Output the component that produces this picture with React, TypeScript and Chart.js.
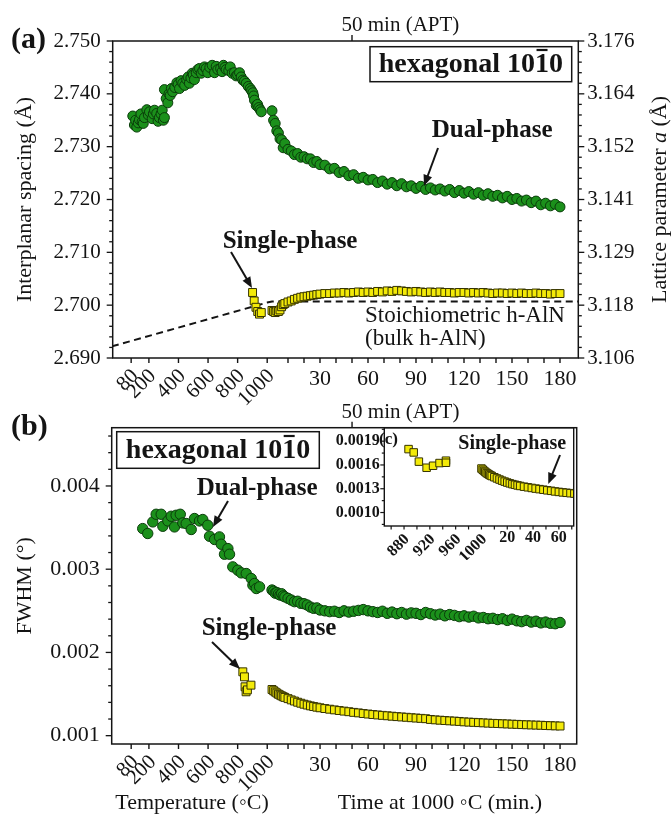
import React, { useEffect, useRef } from 'react';
import { Chart, registerables } from 'chart.js';

Chart.register(...registerables);

// ---------------- data ----------------
// temperature ramp stage (°C) and isothermal stage at 1000 °C (min)
const tempTickLabels = [80, 200, 400, 600, 800, 1000];
const timeTickLabels = [30, 60, 90, 120, 150, 180];
const aptMinute = 50;

const aLeftTicks = [2.69, 2.7, 2.71, 2.72, 2.73, 2.74, 2.75];
const aRightLabels = ['3.106', '3.118', '3.129', '3.141', '3.152', '3.164', '3.176'];
const bTicks = [0.001, 0.002, 0.003, 0.004];
const cTicks = [0.001, 0.0013, 0.0016, 0.0019];
const cTempLabels = [880, 920, 960, 1000];
const cTimeLabels = [20, 40, 60];

const timeMin = [0, 1, 2, 3, 4, 5, 6, 7, 8, 10, 12, 14, 16, 18, 20, 22, 24, 26, 28, 30, 33, 36, 39, 42, 45, 48, 51, 54, 57, 60, 63, 66, 69, 72, 75, 78, 81, 84, 87, 90, 93, 96, 99, 102, 105, 108, 111, 114, 117, 120, 123, 126, 129, 132, 135, 138, 141, 144, 147, 150, 153, 156, 159, 162, 165, 168, 171, 174, 177, 180];

// (a) interplanar spacing, dual-phase, heating ramp
const aDualTempT = [91, 102, 110, 118, 128, 136, 146, 154, 162, 170, 186, 196, 204, 222, 230, 238, 253, 262, 271, 282, 290, 298, 305, 305, 317, 328, 336, 344, 352, 361, 375, 389, 398, 407, 418, 429, 442, 456, 465, 474, 484, 493, 500, 508, 520, 531, 542, 554, 565, 576, 587, 598, 612, 628, 644, 655, 666, 685, 695, 704, 714, 723, 740, 750, 763, 778, 790, 800, 813, 824, 835, 846, 858, 872, 885, 894, 903, 908, 914, 926, 935, 943, 952, 960];
const aDualTempD = [2.7358, 2.7341, 2.735, 2.7337, 2.7345, 2.7351, 2.7362, 2.7347, 2.7344, 2.7355, 2.737, 2.736, 2.7366, 2.7353, 2.7362, 2.7369, 2.7363, 2.7348, 2.7355, 2.7362, 2.7369, 2.735, 2.7355, 2.7408, 2.7391, 2.7383, 2.74, 2.7397, 2.741, 2.7404, 2.7412, 2.7421, 2.7418, 2.741, 2.7425, 2.742, 2.7416, 2.7427, 2.7432, 2.742, 2.743, 2.7439, 2.7436, 2.7427, 2.744, 2.7446, 2.7448, 2.7439, 2.7444, 2.7451, 2.7448, 2.744, 2.745, 2.7454, 2.744, 2.7452, 2.7446, 2.7448, 2.7442, 2.7454, 2.745, 2.7446, 2.7444, 2.7451, 2.7439, 2.744, 2.7434, 2.7436, 2.744, 2.7432, 2.7426, 2.7424, 2.742, 2.7414, 2.741, 2.7406, 2.7402, 2.7396, 2.7388, 2.7378, 2.738, 2.7374, 2.737, 2.7366];
const aDualTimeD = [2.7368, 2.735, 2.7344, 2.733, 2.7326, 2.7315, 2.7313, 2.7298, 2.7306, 2.7295, 2.7292, 2.7285, 2.7287, 2.728, 2.7281, 2.7277, 2.7277, 2.727, 2.7272, 2.7266, 2.7265, 2.7258, 2.7259, 2.7251, 2.7253, 2.7245, 2.7247, 2.724, 2.7242, 2.7237, 2.7238, 2.7232, 2.7235, 2.7229, 2.7232, 2.7226, 2.723, 2.7224, 2.7226, 2.7221, 2.7225, 2.7219, 2.7222, 2.7218, 2.722, 2.7216, 2.7219, 2.7213, 2.7217, 2.7212, 2.7215, 2.721, 2.7213, 2.7208, 2.7211, 2.7206, 2.7208, 2.7203, 2.7206, 2.72, 2.7202, 2.7197, 2.7199, 2.7194, 2.7197, 2.719, 2.7193, 2.7188, 2.7191, 2.7186];
// (a) single-phase
const aSingleTempT = [901, 912, 924, 936, 948, 960];
const aSingleTempD = [2.7024, 2.7008, 2.6996, 2.6988, 2.6983, 2.6986];
const aSingleTimeD = [2.699, 2.6988, 2.6986, 2.6989, 2.6988, 2.6991, 2.6997, 2.7001, 2.7003, 2.7006, 2.7008, 2.7011, 2.7013, 2.7015, 2.7016, 2.7017, 2.7018, 2.7019, 2.702, 2.7021, 2.7022, 2.7022, 2.7023, 2.7023, 2.7024, 2.7023, 2.7024, 2.7025, 2.7024, 2.7025, 2.7024, 2.7026, 2.7025, 2.7027, 2.7026, 2.7028, 2.7027, 2.7026, 2.7025, 2.7026, 2.7025, 2.7024, 2.7025, 2.7024, 2.7025, 2.7024, 2.7024, 2.7023, 2.7024, 2.7024, 2.7023, 2.7024, 2.7023, 2.7024, 2.7023, 2.7022, 2.7023, 2.7023, 2.7022, 2.7023, 2.7022, 2.7023, 2.7022, 2.7022, 2.7023, 2.7022, 2.7022, 2.7021, 2.7022, 2.7022];
// (a) stoichiometric bulk h-AlN reference
const stoichTempT = [-50, 1000];
const stoichTempD = [2.6922, 2.7005];
const stoichTimeT = [0, 192];
const stoichTimeD = [2.7007, 2.7007];

// (b) FWHM, dual-phase
const bDualTempT = [158, 192, 226, 249, 283, 294, 328, 351, 373, 384, 412, 429, 452, 486, 508, 542, 564, 598, 610, 644, 677, 689, 711, 734, 745, 767, 801, 824, 858, 892, 903, 914, 926, 948];
const bDualTempV = [0.003488, 0.003429, 0.003568, 0.00366, 0.00366, 0.003516, 0.00358, 0.003636, 0.003508, 0.003648, 0.00366, 0.003556, 0.003549, 0.003477, 0.003609, 0.00358, 0.003597, 0.003528, 0.003396, 0.003357, 0.003388, 0.0033, 0.00318, 0.003248, 0.00318, 0.003028, 0.002988, 0.002956, 0.002948, 0.002888, 0.002808, 0.002828, 0.002768, 0.002788];
const bDualTimeV = [0.00275, 0.002735, 0.002712, 0.00272, 0.002702, 0.00269, 0.002705, 0.00268, 0.002668, 0.00265, 0.00263, 0.00261, 0.002615, 0.00259, 0.002585, 0.00257, 0.002545, 0.00253, 0.002535, 0.00251, 0.0025, 0.00249, 0.002495, 0.00248, 0.0025, 0.002485, 0.002495, 0.002505, 0.002515, 0.0025, 0.00249, 0.00248, 0.002495, 0.00247, 0.002485, 0.002465, 0.00248, 0.00246, 0.002475, 0.00247, 0.002455, 0.00248, 0.002465, 0.00245, 0.00246, 0.00244, 0.002455, 0.002445, 0.00243, 0.00244, 0.002425, 0.002435, 0.002415, 0.00242, 0.002405, 0.00241, 0.002395, 0.002405, 0.002385, 0.0024, 0.00238, 0.00237, 0.002385, 0.002365, 0.002375, 0.002355, 0.002365, 0.00235, 0.002345, 0.00236];
// (b) FWHM, single-phase
const bSingleTempT = [835, 846, 850, 857, 866, 890];
const bSingleTempV = [0.001767, 0.001707, 0.001587, 0.001527, 0.00155, 0.001607];
const bSingleTimeV = [0.001555, 0.00154, 0.001525, 0.001512, 0.001498, 0.001488, 0.001478, 0.001468, 0.00146, 0.001445, 0.00143, 0.001416, 0.001402, 0.00139, 0.001378, 0.001368, 0.001358, 0.00135, 0.001342, 0.001335, 0.001326, 0.001318, 0.00131, 0.001302, 0.001295, 0.001288, 0.00128, 0.001274, 0.001266, 0.00126, 0.001254, 0.001249, 0.001244, 0.001239, 0.001234, 0.001229, 0.001225, 0.001221, 0.001216, 0.001212, 0.001208, 0.001204, 0.001195, 0.00119, 0.001186, 0.001182, 0.001178, 0.001175, 0.001171, 0.001166, 0.001163, 0.00116, 0.001157, 0.001154, 0.001151, 0.001148, 0.001146, 0.001143, 0.001141, 0.001138, 0.001136, 0.001133, 0.001131, 0.001129, 0.001127, 0.001125, 0.001122, 0.00112, 0.001118, 0.001116];
// (c) inset, single-phase heating part
const cSingleTempT = [887, 895, 903, 915, 925, 935, 945, 945];
const cSingleTempV = [0.0018, 0.001758, 0.001642, 0.001565, 0.00159, 0.001624, 0.001654, 0.001628];

// ---------------- axis mapping (broken temperature / time axis) ----------------
const RAMP = 10.82; // °C per axis-minute in the heating section
const T_END = -3; // axis position of the 1000 °C tick
const tempToU = (T: number) => T_END - (1000 - T) / RAMP;
const insetTempToU = (T: number) => (T - 1000) / 2;
const same = (t: number) => t;
const toPts = (xs: number[], ys: number[], f: (v: number) => number) => xs.map((x, i) => ({ x: f(x), y: ys[i] }));

// ---------------- styles ----------------
const SERIF = '"Liberation Serif", "Times New Roman", Times, serif';
const F = (size: number, weight = '') => `${weight ? weight + ' ' : ''}${size}px ${SERIF}`;
const INK = '#141414';
const green = { pointStyle: 'circle', pointRadius: 5, pointBackgroundColor: '#1b901b', pointBorderColor: '#0a3c0a', pointBorderWidth: 1, showLine: false };
const yellow = { pointStyle: 'rect', pointRadius: 5.6, pointBackgroundColor: '#f3ea08', pointBorderColor: '#353300', pointBorderWidth: 1, showLine: false };

// ---------------- drawing helpers ----------------
function seg(ctx: CanvasRenderingContext2D, x1: number, y1: number, x2: number, y2: number) {
  ctx.beginPath(); ctx.moveTo(x1, y1); ctx.lineTo(x2, y2); ctx.stroke();
}
function txt(ctx: CanvasRenderingContext2D, s: string, x: number, y: number, font: string, align: CanvasTextAlign = 'left', base: CanvasTextBaseline = 'alphabetic', rot = 0) {
  ctx.save();
  ctx.font = font; ctx.fillStyle = INK; ctx.textAlign = align; ctx.textBaseline = base;
  ctx.translate(x, y); if (rot) ctx.rotate(rot);
  ctx.fillText(s, 0, 0);
  ctx.restore();
}
function arrow(ctx: CanvasRenderingContext2D, x1: number, y1: number, x2: number, y2: number) {
  const a = Math.atan2(y2 - y1, x2 - x1), L = 11, W = 4.5;
  const c = Math.cos(a), s = Math.sin(a);
  ctx.save(); ctx.strokeStyle = INK; ctx.fillStyle = INK; ctx.lineWidth = 2;
  seg(ctx, x1, y1, x2 - L * 0.7 * c, y2 - L * 0.7 * s);
  ctx.beginPath(); ctx.moveTo(x2, y2);
  ctx.lineTo(x2 - L * c + W * s, y2 - L * s - W * c);
  ctx.lineTo(x2 - L * c - W * s, y2 - L * s + W * c);
  ctx.closePath(); ctx.fill();
  ctx.restore();
}
function hexBox(ctx: CanvasRenderingContext2D, x: number, y: number, w: number, h: number, baseline: number) {
  ctx.lineWidth = 1.5; ctx.strokeRect(x, y, w, h);
  const font = F(28, 'bold'); ctx.font = font;
  const a = 'hexagonal 10', b = '1', c = '0';
  const wa = ctx.measureText(a).width, wb = ctx.measureText(b).width, wc = ctx.measureText(c).width;
  const start = x + w / 2 - (wa + wb + wc) / 2;
  txt(ctx, a, start, baseline, font); txt(ctx, b, start + wa, baseline, font); txt(ctx, c, start + wa + wb, baseline, font);
  ctx.lineWidth = 2.2; seg(ctx, start + wa + 1.5, baseline - 22, start + wa + wb - 1.5, baseline - 22);
}
function vTitle(ctx: CanvasRenderingContext2D, parts: [string, string][], cx: number, cy: number) {
  ctx.save(); ctx.translate(cx, cy); ctx.rotate(-Math.PI / 2);
  let total = 0;
  parts.forEach(([s, f]) => { ctx.font = f; total += ctx.measureText(s).width; });
  let x = -total / 2; ctx.textBaseline = 'middle'; ctx.textAlign = 'left'; ctx.fillStyle = INK;
  parts.forEach(([s, f]) => { ctx.font = f; ctx.fillText(s, x, 0); x += ctx.measureText(s).width; });
  ctx.restore();
}
type Area = { left: number; right: number; top: number; bottom: number };
function brokenXAxis(ctx: CanvasRenderingContext2D, ca: Area, px: (u: number) => number) {
  const y0 = ca.bottom;
  ctx.lineWidth = 1.4;
  tempTickLabels.forEach((T) => {
    const x = px(tempToU(T));
    seg(ctx, x, y0, x, y0 + 5);
    txt(ctx, String(T), x + 4, y0 + 15, F(21), 'right', 'middle', -Math.PI / 4);
  });
  for (let t = 10; t <= 180; t += 10) { const x = px(t); seg(ctx, x, y0, x, y0 + 5); }
  timeTickLabels.forEach((t) => txt(ctx, String(t), px(t), y0 + 21, F(22), 'center', 'middle'));
}
function aptMark(ctx: CanvasRenderingContext2D, ca: Area, px: (u: number) => number, yText: number) {
  const x = px(aptMinute);
  ctx.lineWidth = 1.4; seg(ctx, x, ca.top, x, ca.top - 6);
  ctx.font = F(21); const w = ctx.measureText(String(aptMinute)).width;
  txt(ctx, `${aptMinute} min (APT)`, x - w / 2, yText, F(21), 'left', 'middle');
}
function deco(id: string, ox: number, oy: number, fn: (ctx: CanvasRenderingContext2D, ca: Area, px: (u: number) => number, py: (v: number) => number) => void) {
  return {
    id,
    afterDraw(chart: any) {
      const ctx: CanvasRenderingContext2D = chart.ctx;
      const c = chart.chartArea;
      const ca = { left: c.left + ox, right: c.right + ox, top: c.top + oy, bottom: c.bottom + oy };
      const xs = chart.scales.x, ys = chart.scales.y;
      const px = (u: number) => xs.getPixelForValue(u) + ox;
      const py = (v: number) => ys.getPixelForValue(v) + oy;
      ctx.save();
      ctx.translate(-ox, -oy);
      ctx.strokeStyle = INK; ctx.fillStyle = INK; ctx.lineWidth = 1.5;
      fn(ctx, ca, px, py);
      ctx.restore();
    },
  };
}
function hiddenAxis(extra: any) {
  return { type: 'linear', display: true, ticks: { display: false }, grid: { display: false }, border: { display: false }, ...extra };
}

const decoA = deco('decoA', 0, 0, (ctx, ca, px, py) => {
  ctx.lineWidth = 1.5; ctx.strokeRect(ca.left, ca.top, ca.right - ca.left, ca.bottom - ca.top);
  ctx.lineWidth = 1.3;
  for (let k = 0; k <= 30; k++) {
    const y = py(2.69 + k * 0.002); const L = k % 5 === 0 ? 6 : 3.5;
    seg(ctx, ca.left - L, y, ca.left, y); seg(ctx, ca.right, y, ca.right + L, y);
  }
  aLeftTicks.forEach((v, i) => {
    const y = py(v);
    txt(ctx, v.toFixed(3), ca.left - 12, y, F(21), 'right', 'middle');
    txt(ctx, aRightLabels[i], ca.right + 9, y, F(21), 'left', 'middle');
  });
  brokenXAxis(ctx, ca, px);
  aptMark(ctx, ca, px, 25);
  txt(ctx, '(a)', 11, 40, F(30, 'bold'), 'left', 'middle');
  hexBox(ctx, 370, 46.7, 201.7, 35, 72);
  txt(ctx, 'Dual-phase', 431.7, 137, F(25, 'bold'));
  arrow(ctx, 438, 148, 424, 186);
  txt(ctx, 'Single-phase', 222.7, 248, F(25, 'bold'));
  arrow(ctx, 231, 252, 252, 288);
  txt(ctx, 'Stoichiometric h-AlN', 365, 322, F(23));
  txt(ctx, '(bulk h-AlN)', 365, 345, F(23));
  const mid = (ca.top + ca.bottom) / 2;
  vTitle(ctx, [['Interplanar spacing (Å)', F(22)]], 25, mid);
  vTitle(ctx, [['Lattice parameter ', F(22)], ['a', F(22, 'italic')], [' (Å)', F(22)]], 660, mid);
});

const decoB = deco('decoB', 0, 400, (ctx, ca, px, py) => {
  ctx.lineWidth = 1.5; ctx.strokeRect(ca.left, ca.top, ca.right - ca.left, ca.bottom - ca.top);
  ctx.lineWidth = 1.3;
  for (let k = 0; k <= 18; k++) {
    const y = py(0.001 + k * 0.0002); const L = k % 5 === 0 ? 6 : 3.5;
    seg(ctx, ca.left - L, y, ca.left, y);
  }
  bTicks.forEach((v) => txt(ctx, v.toFixed(3), ca.left - 12, py(v), F(22), 'right', 'middle'));
  brokenXAxis(ctx, ca, px);
  aptMark(ctx, ca, px, 412);
  txt(ctx, '(b)', 11, 427, F(30, 'bold'), 'left', 'middle');
  hexBox(ctx, 116.7, 431.7, 202.6, 36.6, 458);
  txt(ctx, 'Dual-phase', 196.7, 495, F(25, 'bold'));
  arrow(ctx, 228, 501, 213, 527);
  txt(ctx, 'Single-phase', 201.7, 635, F(25, 'bold'));
  arrow(ctx, 212, 642, 240, 669);
  vTitle(ctx, [['FWHM (°)', F(22)]], 25, (ca.top + ca.bottom) / 2);
  txt(ctx, 'Temperature (◦C)', 192, 803, F(22), 'center', 'middle');
  txt(ctx, 'Time at 1000 ◦C (min.)', 440, 803, F(22), 'center', 'middle');
});

const decoC = deco('decoC', 330, 420, (ctx, ca, px, py) => {
  ctx.lineWidth = 1.4; ctx.strokeRect(ca.left, ca.top, ca.right - ca.left, ca.bottom - ca.top);
  ctx.lineWidth = 1.2;
  for (let k = 0; k <= 8; k++) {
    const y = py(0.00085 + k * 0.00015); const L = k % 2 === 1 ? 4 : 2.5;
    seg(ctx, ca.left - L, y, ca.left, y);
  }
  cTicks.forEach((v) => txt(ctx, v.toFixed(4), ca.left - 4.5, py(v), F(16, 'bold'), 'right', 'middle'));
  for (let u = -70; u <= 70; u += 10) { const x = px(u); seg(ctx, x, ca.bottom, x, ca.bottom + 3.5); }
  cTempLabels.forEach((T) => txt(ctx, String(T), px(insetTempToU(T)) + 3, ca.bottom + 11, F(16, 'bold'), 'right', 'middle', -Math.PI / 4));
  cTimeLabels.forEach((t) => txt(ctx, String(t), px(t), ca.bottom + 12, F(16, 'bold'), 'center', 'middle'));
  txt(ctx, '(c)', 379, 440, F(17, 'bold'), 'left', 'middle');
  txt(ctx, 'Single-phase', 458.3, 449, F(20, 'bold'));
  arrow(ctx, 560, 455, 548.3, 484);
});

function baseOptions(padding: any, scales: any) {
  return {
    responsive: false,
    animation: false,
    events: [],
    layout: { padding },
    plugins: { legend: { display: false }, tooltip: { enabled: false } },
    scales,
  };
}

function configA(): any {
  return {
    type: 'scatter',
    data: {
      datasets: [
        { data: toPts(aDualTempT, aDualTempD, tempToU), ...green },
        { data: toPts(timeMin, aDualTimeD, same), ...green },
        { data: toPts(aSingleTempT, aSingleTempD, tempToU), ...yellow },
        { data: toPts(timeMin, aSingleTimeD, same), ...yellow },
        {
          data: [...toPts(stoichTempT, stoichTempD, tempToU), ...toPts(stoichTimeT, stoichTimeD, same)],
          showLine: true, pointRadius: 0, borderColor: INK, borderWidth: 2, borderDash: [7, 4.5], fill: false, order: 10,
        },
      ],
    },
    options: baseOptions({ top: 41, left: 0, right: 0, bottom: 0 }, {
      x: hiddenAxis({ min: -99.56, max: 191.44, afterFit: (s: any) => { s.height = 62; } }),
      y: hiddenAxis({ position: 'left', min: 2.69, max: 2.75, afterFit: (s: any) => { s.width = 112.7; } }),
      y2: hiddenAxis({ position: 'right', min: 2.69, max: 2.75, afterFit: (s: any) => { s.width = 92.7; } }),
    }),
    plugins: [decoA],
  };
}

function configB(): any {
  return {
    type: 'scatter',
    data: {
      datasets: [
        { data: toPts(bDualTempT, bDualTempV, tempToU), ...green, pointRadius: 5.2 },
        { data: toPts(timeMin, bDualTimeV, same), ...green, pointRadius: 5.2 },
        { data: toPts(bSingleTempT, bSingleTempV, tempToU), ...yellow },
        { data: toPts(timeMin, bSingleTimeV, same), ...yellow },
      ],
    },
    options: baseOptions({ top: 27.7, left: 0, right: 94.3, bottom: 0 }, {
      x: hiddenAxis({ min: -100.2, max: 190.4, afterFit: (s: any) => { s.height = 72; } }),
      y: hiddenAxis({ position: 'left', min: 0.0009, max: 0.0047, afterFit: (s: any) => { s.width = 111.7; } }),
    }),
    plugins: [decoB],
  };
}

function configC(): any {
  return {
    type: 'scatter',
    data: {
      datasets: [
        { data: toPts(cSingleTempT, cSingleTempV, insetTempToU), ...yellow, pointRadius: 5.3, clip: 0 },
        { data: toPts(timeMin, bSingleTimeV, same), ...yellow, pointRadius: 5.3, clip: 0 },
      ],
    },
    options: baseOptions({ top: 7.7, left: 0, right: 3.3, bottom: 0 }, {
      x: hiddenAxis({ min: -75.3, max: 71.5, afterFit: (s: any) => { s.height = 34; } }),
      y: hiddenAxis({ position: 'left', min: 0.00083, max: 0.00207, afterFit: (s: any) => { s.width = 54.3; } }),
    }),
    plugins: [decoC],
  };
}

export default function App() {
  const aRef = useRef<HTMLCanvasElement>(null);
  const bRef = useRef<HTMLCanvasElement>(null);
  const cRef = useRef<HTMLCanvasElement>(null);
  useEffect(() => {
    const charts = [
      new Chart(aRef.current as HTMLCanvasElement, configA()),
      new Chart(bRef.current as HTMLCanvasElement, configB()),
      new Chart(cRef.current as HTMLCanvasElement, configC()),
    ];
    return () => charts.forEach((c) => c.destroy());
  }, []);
  const abs = (l: number, t: number, w: number, h: number): React.CSSProperties => ({ position: 'absolute', left: l, top: t, width: w, height: h });
  return (
    <div style={{ ...abs(0, 0, 671, 816), background: '#fff', overflow: 'hidden' }}>
      <canvas ref={aRef} width={671} height={420} style={abs(0, 0, 671, 420)} />
      <canvas ref={bRef} width={671} height={416} style={abs(0, 400, 671, 416)} />
      <canvas ref={cRef} width={250} height={140} style={abs(330, 420, 250, 140)} />
    </div>
  );
}
